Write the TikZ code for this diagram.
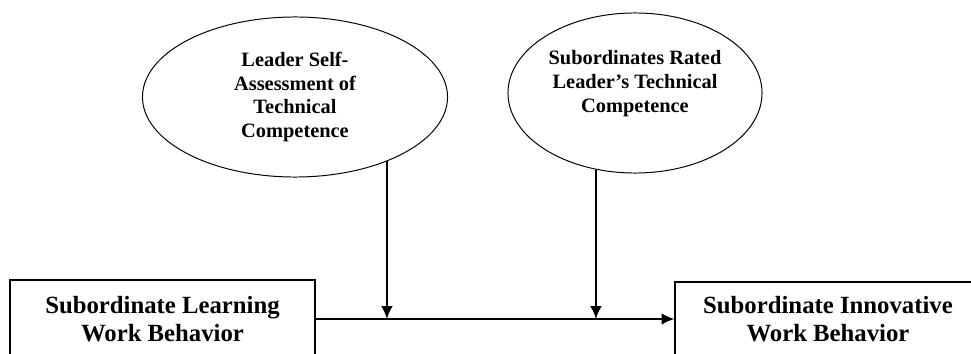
\documentclass[tikz,border=0pt]{standalone}
\usepackage{fontspec}
\setmainfont{Liberation Serif}
\usetikzlibrary{shapes.geometric,arrows.meta}
\begin{document}
\begin{tikzpicture}[x=0.025cm, y=-0.025cm, line width=0.7pt,
  latent/.style={ellipse, draw, inner sep=0pt, minimum height=4cm, align=center,
    font=\fontsize{14.5}{17}\selectfont\bfseries},
  observed/.style={rectangle, draw, line width=0.8pt, inner sep=0pt, align=center,
    font=\fontsize{17.6}{19.9}\selectfont\bfseries},
  conn/.style={line width=1.3pt, -{Latex[length=3.2mm,width=2.9mm]}}]
  \useasboundingbox (0,0) rectangle (971,354);
  \clip (0,0) rectangle (971,354);
  \node[latent, minimum width=7.625cm] (self) at (295,97)
    {Leader Self-\\Assessment of\\Technical\\Competence};
  \node[latent, minimum width=6.35cm] (rated) at (635,93)
    {Subordinates Rated\\Leader’s Technical\\Competence\\~};
  \node[observed, minimum width=7.625cm, minimum height=1.95cm] (learn) at (162.5,319)
    {Subordinate Learning\\Work Behavior};
  \node[observed, minimum width=7.65cm, minimum height=1.85cm] (innov) at (828,319)
    {Subordinate Innovative\\Work Behavior};
  \draw[conn] (learn) -- (innov);
  \draw[conn] (self.-35) -- (self.-35 |- learn.east);
  \draw[conn] (rated.-117) -- (rated.-117 |- learn.east);
\end{tikzpicture}
\end{document}
